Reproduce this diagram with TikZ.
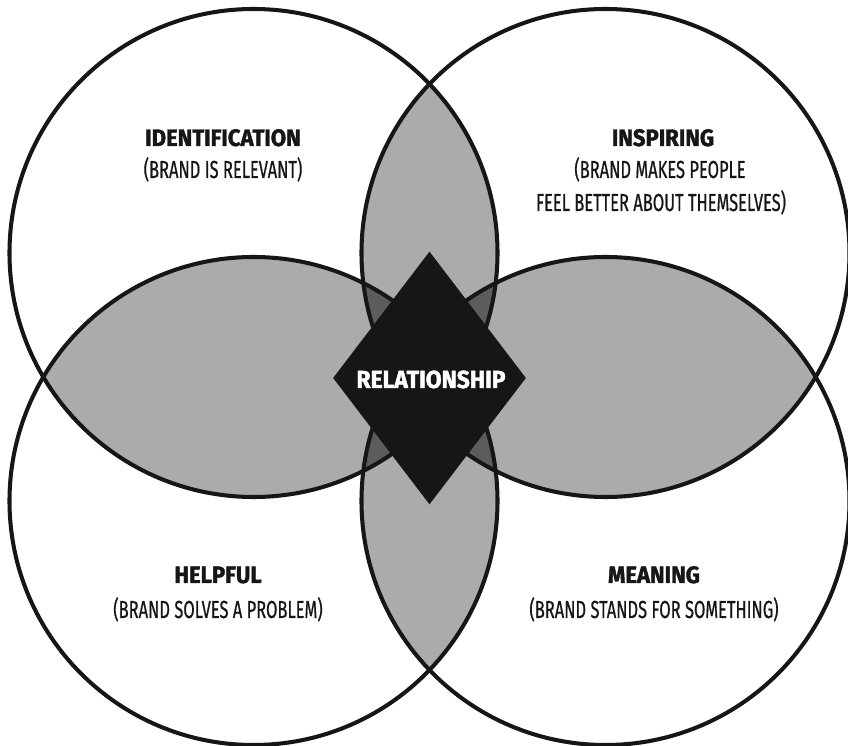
\documentclass[tikz,border=0pt]{standalone}
\usepackage{fontspec}
\setmainfont{Fira Sans}
\newfontfamily\headfont[FakeStretch=0.93,FakeBold=1.6]{Fira Sans}
\newfontfamily\subfont[FakeStretch=0.67,FakeBold=0.6]{Fira Sans}
\usetikzlibrary{shapes.geometric}

\definecolor{lensgray}{HTML}{ABABAB}
\definecolor{coregray}{HTML}{5C5C5C}
\definecolor{inkblack}{HTML}{161616}

\tikzset{
  ring/.style={draw=inkblack, line width=2.3pt},
  corebox/.style={shape=diamond, fill=inkblack, inner sep=0pt,
    minimum width=3.86cm, minimum height=5.06cm},
  headtext/.style={anchor=base, text=inkblack,
    font=\headfont\bfseries\fontsize{13.5}{16}\selectfont},
  subtext/.style={anchor=base, text=inkblack,
    font=\subfont\fontsize{14}{16}\selectfont},
  coretext/.style={anchor=base, text=white,
    font=\headfont\bfseries\fontsize{14}{16}\selectfont}
}

\begin{document}
\begin{tikzpicture}
\useasboundingbox (0,0) rectangle (16.96,14.92);
\def\rad{4.88}
\coordinate (tl) at (5.07,9.86);
\coordinate (tr) at (12.11,9.86);
\coordinate (bl) at (5.07,4.90);
\coordinate (br) at (12.11,4.90);

% two circles overlap
\foreach \a/\b in {tl/tr,tl/bl,tr/br,bl/br,tl/br,tr/bl}{
  \begin{scope}
    \clip (\a) circle (\rad);
    \fill[lensgray] (\b) circle (\rad);
  \end{scope}
}
% three circles overlap
\foreach \a/\b/\c in {tl/tr/bl,tl/tr/br,tl/bl/br,tr/bl/br}{
  \begin{scope}
    \clip (\a) circle (\rad);
    \clip (\b) circle (\rad);
    \fill[coregray] (\c) circle (\rad);
  \end{scope}
}
\foreach \c in {tl,tr,bl,br}
  \draw[ring] (\c) circle (\rad);

% centre
\node[corebox] (core) at (8.59,7.36) {};
\node[coretext] (relation) at (8.62,7.16) {RELATIONSHIP};

% labels
\node[headtext] (ident) at (4.46,12.00) {IDENTIFICATION};
\node[subtext] (identsub) at (4.46,11.36) {(BRAND IS RELEVANT)};

\node[headtext] (inspire) at (13.26,12.00) {INSPIRING};
\node[subtext] (inspiresub) at (13.20,11.36) {(BRAND MAKES PEOPLE};
\node[subtext] (inspiresubb) at (13.22,10.70) {FEEL BETTER ABOUT THEMSELVES)};

\node[headtext] (help) at (4.36,3.26) {HELPFUL};
\node[subtext] (helpsub) at (4.36,2.56) {(BRAND SOLVES A PROBLEM)};

\node[headtext] (mean) at (13.08,3.26) {MEANING};
\node[subtext] (meansub) at (13.08,2.56) {(BRAND STANDS FOR SOMETHING)};
\end{tikzpicture}
\end{document}
